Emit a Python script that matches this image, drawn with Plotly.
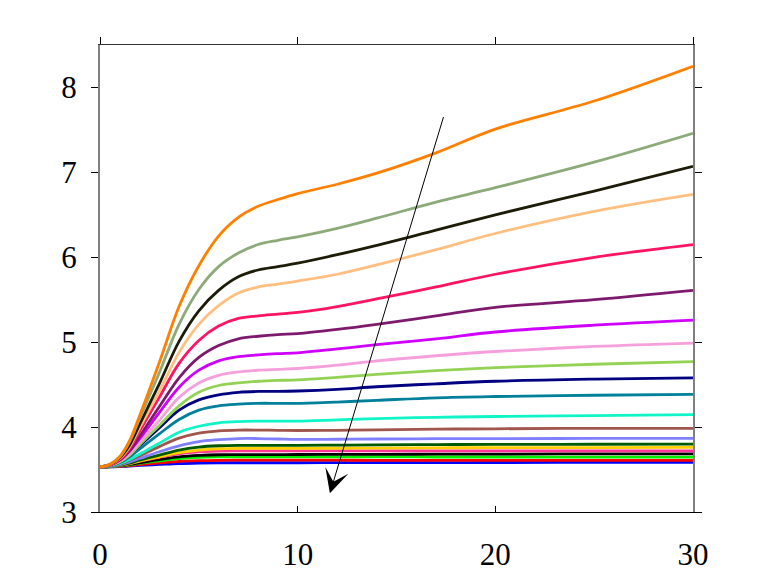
import plotly.graph_objects as go

# sample abscissae
X = [0, 0.5, 1, 1.5, 2, 3, 4, 5, 6, 7, 8, 9, 10, 12, 14, 17, 20, 25, 30]

# curves, top to bottom
orange      = [3.53, 3.56, 3.65, 3.84, 4.13, 4.76, 5.42, 5.90, 6.25, 6.47, 6.60, 6.68, 6.75, 6.86, 6.99, 7.23, 7.51, 7.84, 8.25]
sage        = [3.53, 3.563, 3.65, 3.83, 4.10, 4.64, 5.21, 5.62, 5.89, 6.05, 6.15, 6.20, 6.24, 6.34, 6.46, 6.65, 6.82, 7.12, 7.46]
darkblack   = [3.53, 3.559, 3.64, 3.79, 4.03, 4.51, 5.01, 5.37, 5.61, 5.77, 5.85, 5.89, 5.93, 6.03, 6.14, 6.32, 6.50, 6.78, 7.07]
lightorange = [3.53, 3.556, 3.63, 3.77, 3.99, 4.42, 4.88, 5.21, 5.43, 5.58, 5.65, 5.685, 5.72, 5.80, 5.91, 6.09, 6.28, 6.54, 6.74]
crimson     = [3.53, 3.555, 3.62, 3.75, 3.95, 4.35, 4.75, 5.02, 5.19, 5.28, 5.31, 5.33, 5.35, 5.42, 5.51, 5.65, 5.80, 6.00, 6.15]
purple      = [3.53, 3.552, 3.61, 3.72, 3.89, 4.24, 4.58, 4.82, 4.96, 5.04, 5.07, 5.09, 5.10, 5.15, 5.21, 5.31, 5.41, 5.50, 5.61]
magenta     = [3.53, 3.551, 3.61, 3.72, 3.86, 4.17, 4.47, 4.67, 4.78, 4.83, 4.85, 4.865, 4.875, 4.92, 4.97, 5.04, 5.12, 5.20, 5.26]
pink        = [3.53, 3.548, 3.60, 3.69, 3.82, 4.08, 4.35, 4.52, 4.61, 4.65, 4.67, 4.68, 4.69, 4.73, 4.78, 4.84, 4.89, 4.95, 4.99]
yellowgreen = [3.53, 3.546, 3.59, 3.67, 3.79, 4.02, 4.25, 4.41, 4.49, 4.52, 4.54, 4.55, 4.555, 4.585, 4.62, 4.665, 4.70, 4.74, 4.77]
navy        = [3.53, 3.546, 3.59, 3.67, 3.78, 3.99, 4.20, 4.32, 4.38, 4.41, 4.42, 4.42, 4.425, 4.445, 4.475, 4.51, 4.54, 4.565, 4.58]
teal        = [3.53, 3.544, 3.58, 3.65, 3.74, 3.92, 4.09, 4.20, 4.25, 4.27, 4.28, 4.28, 4.28, 4.295, 4.315, 4.345, 4.36, 4.375, 4.385]
aqua        = [3.53, 3.54, 3.57, 3.62, 3.68, 3.81, 3.94, 4.01, 4.05, 4.065, 4.07, 4.07, 4.07, 4.085, 4.10, 4.115, 4.125, 4.135, 4.146]
brown       = [3.53, 3.539, 3.56, 3.61, 3.66, 3.77, 3.87, 3.93, 3.955, 3.965, 3.965, 3.962, 3.96, 3.962, 3.968, 3.976, 3.98, 3.985, 3.985]
lightblue   = [3.53, 3.537, 3.556, 3.59, 3.63, 3.71, 3.78, 3.83, 3.852, 3.865, 3.865, 3.86, 3.855, 3.857, 3.86, 3.863, 3.865, 3.866, 3.867]
darkgreen   = [3.53, 3.535, 3.55, 3.576, 3.61, 3.67, 3.73, 3.765, 3.78, 3.785, 3.785, 3.785, 3.785, 3.788, 3.79, 3.794, 3.796, 3.798, 3.80]
gold        = [3.53, 3.534, 3.548, 3.57, 3.60, 3.65, 3.70, 3.73, 3.745, 3.75, 3.75, 3.75, 3.75, 3.751, 3.753, 3.756, 3.757, 3.758, 3.76]
hotpink     = [3.53, 3.535, 3.549, 3.57, 3.597, 3.644, 3.686, 3.709, 3.718, 3.72, 3.72, 3.72, 3.72, 3.72, 3.72, 3.72, 3.72, 3.72, 3.72]
black       = [3.53, 3.534, 3.545, 3.56, 3.58, 3.617, 3.649, 3.666, 3.674, 3.675, 3.676, 3.676, 3.677, 3.678, 3.679, 3.681, 3.682, 3.684, 3.685]
lime        = [3.53, 3.533, 3.542, 3.555, 3.572, 3.602, 3.628, 3.643, 3.649, 3.65, 3.65, 3.65, 3.65, 3.649, 3.649, 3.648, 3.648, 3.647, 3.647]
red         = [3.53, 3.532, 3.538, 3.547, 3.558, 3.578, 3.596, 3.605, 3.609, 3.61, 3.61, 3.61, 3.61, 3.61, 3.609, 3.609, 3.609, 3.608, 3.608]
blue        = [3.53, 3.531, 3.535, 3.541, 3.548, 3.56, 3.571, 3.577, 3.58, 3.58, 3.58, 3.58, 3.58, 3.581, 3.581, 3.582, 3.583, 3.584, 3.585]

series = [
    (blue, "#0000FF"), (red, "#FF0000"), (lime, "#00EE00"), (black, "#000000"),
    (hotpink, "#FF3399"), (gold, "#FFD000"), (darkgreen, "#005A00"), (lightblue, "#8080FF"),
    (brown, "#A0554D"), (aqua, "#10F5C8"), (teal, "#00809A"), (navy, "#000080"),
    (yellowgreen, "#94D255"), (pink, "#F5A0DC"), (magenta, "#D000FF"), (purple, "#7D1A6E"),
    (crimson, "#FF1464"), (lightorange, "#FFBF80"), (darkblack, "#1C1C08"), (sage, "#8CAA7A"),
    (orange, "#FF8000"),
]

X_TICKS = [0, 10, 20, 30]
Y_TICKS = [3, 4, 5, 6, 7, 8]

# arrow (tail -> head) in data units
ARROW_TAIL = (17.4, 7.67)
ARROW_HEAD = (11.63, 3.22)

fig = go.Figure()
for ys, col in series:
    fig.add_trace(go.Scatter(x=X, y=ys, mode="lines",
                             line=dict(color=col, width=2.8, shape="spline", smoothing=1.0),
                             hoverinfo="skip", showlegend=False))

# dummy trace for the top x axis
fig.add_trace(go.Scatter(x=[0], y=[3], xaxis="x2", mode="markers",
                         marker=dict(opacity=0), hoverinfo="skip", showlegend=False))

font = dict(family="Times New Roman, Liberation Serif, serif", size=31, color="black")

fig.update_layout(
    width=765, height=575,
    margin=dict(l=100, r=72, t=45, b=63, autoexpand=False),
    paper_bgcolor="white", plot_bgcolor="white",
    font=font,
    xaxis=dict(range=[0, 30], tickvals=X_TICKS, ticks="inside", ticklen=6, tickcolor="black",
               showline=True, linecolor="black", linewidth=1, showgrid=False, zeroline=False,
               tickfont=font, ticklabelstandoff=15, automargin=False),
    xaxis2=dict(range=[0, 30], tickvals=X_TICKS, ticks="outside", ticklen=7, tickcolor="black",
                overlaying="x", side="top", showticklabels=False, automargin=False,
                showline=True, linecolor="#333333", linewidth=1, showgrid=False, zeroline=False),
    yaxis=dict(range=[3, 8.5], tickvals=Y_TICKS, ticks="outside", ticklen=7, tickcolor="black",
               showline=True, linecolor="#808080", linewidth=2, mirror="ticks", automargin=False,
               showgrid=False, zeroline=False, tickfont=font, ticklabelstandoff=8),
    annotations=[dict(x=ARROW_HEAD[0], y=ARROW_HEAD[1], ax=ARROW_TAIL[0], ay=ARROW_TAIL[1],
                      xref="x", yref="y", axref="x", ayref="y", text="", showarrow=True,
                      arrowhead=3, arrowsize=4, arrowwidth=1, arrowcolor="black", standoff=0)],
)

fig.write_html("out.html")
